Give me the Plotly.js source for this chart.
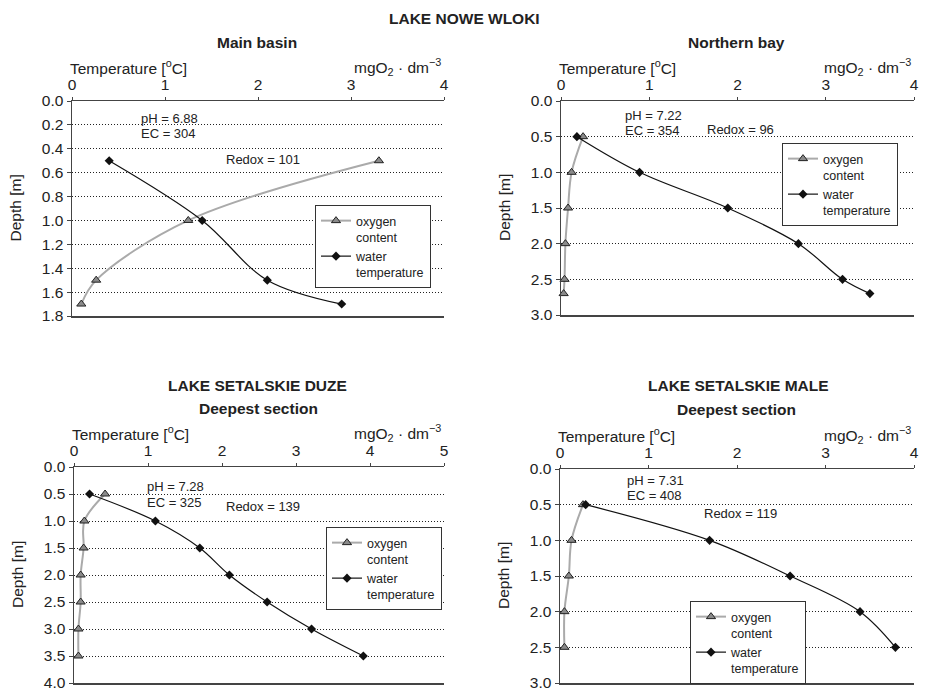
<!DOCTYPE html>
<html>
<head>
<meta charset="utf-8">
<script src="https://cdn.plot.ly/plotly-3.0.1.min.js"></script>
<style>html,body{margin:0;padding:0;background:#fff;overflow:hidden;}#chart{width:935px;height:688px;}</style>
</head>
<body>
<div id="chart"></div>
<script>
// ---- Data ----
const panelTitles = ["Main basin", "Northern bay", "Deepest section", "Deepest section"];
const lakeTitles = ["LAKE NOWE WLOKI", "LAKE SETALSKIE DUZE", "LAKE SETALSKIE MALE"];

const mainDepth = [0.5, 1.0, 1.5, 1.7];
const mainO2 = [3.30, 1.25, 0.26, 0.10];
const mainTemp = [0.40, 1.40, 2.10, 2.90];

const northDepth = [0.5, 1.0, 1.5, 2.0, 2.5, 2.7];
const northO2 = [0.25, 0.12, 0.08, 0.05, 0.04, 0.03];
const northTemp = [0.18, 0.89, 1.89, 2.69, 3.19, 3.50];

const duzeDepth = [0.5, 1.0, 1.5, 2.0, 2.5, 3.0, 3.5];
const duzeO2 = [0.42, 0.14, 0.13, 0.09, 0.09, 0.06, 0.06];
const duzeTemp = [0.21, 1.10, 1.70, 2.10, 2.61, 3.21, 3.91];

const maleDepth = [0.5, 1.0, 1.5, 2.0, 2.5];
const maleO2 = [0.26, 0.13, 0.10, 0.05, 0.05];
const maleTemp = [0.29, 1.69, 2.60, 3.39, 3.79];

const phLabels = ["pH = 6.88", "pH = 7.22", "pH = 7.28", "pH = 7.31"];
const ecLabels = ["EC = 304", "EC = 354", "EC = 325", "EC = 408"];
const redoxLabels = ["Redox = 101", "Redox = 96", "Redox = 139", "Redox = 119"];

const xTicks = [[0, 1, 2, 3, 4], [0, 1, 2, 3, 4], [0, 1, 2, 3, 4, 5], [0, 1, 2, 3, 4]];
const yMax = [1.8, 3.0, 4.0, 3.0];
const yDtick = [0.2, 0.5, 0.5, 0.5];

// ---- Layout helpers ----
const W = 935, H = 688;
const px = v => v / W;
const py = v => 1 - v / H;
const FONT = '"Liberation Sans", Arial, sans-serif';
const TXT = '#222';

const panels = [
  {depth: mainDepth, o2: mainO2, temp: mainTemp, x0: 72, x1: 444, y0: 101, y1: 316,
   ph: [0.72, 0.145], ec: [0.72, 0.27], redox: [1.63, 0.49], leg: [315, 205, 'top']},
  {depth: northDepth, o2: northO2, temp: northTemp, x0: 561, x1: 914, y0: 101, y1: 315,
   ph: [0.70, 0.21], ec: [0.70, 0.42], redox: [1.63, 0.40], leg: [782, 143, 'top']},
  {depth: duzeDepth, o2: duzeO2, temp: duzeTemp, x0: 74, x1: 444, y0: 467, y1: 683,
   ph: [0.96, 0.37], ec: [0.96, 0.65], redox: [2.03, 0.74], leg: [326, 527, 'top']},
  {depth: maleDepth, o2: maleO2, temp: maleTemp, x0: 560, x1: 914, y0: 469, y1: 683,
   ph: [0.73, 0.16], ec: [0.73, 0.37], redox: [1.60, 0.62], leg: [690, 684, 'bottom']}
];

const traces = [];
const layout = {
  width: W, height: H,
  margin: {l: 0, r: 0, t: 0, b: 0, autoexpand: false},
  paper_bgcolor: '#fff', plot_bgcolor: 'rgba(0,0,0,0)',
  font: {family: FONT, size: 15, color: TXT},
  showlegend: true,
  annotations: []
};

panels.forEach((p, i) => {
  const n = i + 1;
  const sfx = n === 1 ? '' : String(n);
  const xa = 'x' + sfx, ya = 'y' + sfx;
  const legName = n === 1 ? 'legend' : 'legend' + n;
  const tv = xTicks[i];

  traces.push({
    x: p.o2, y: p.depth, xaxis: xa, yaxis: ya, type: 'scatter', mode: 'lines+markers',
    name: 'oxygen<br>content', legend: legName, cliponaxis: false,
    line: {color: '#aaaaaa', width: 2, shape: 'spline', smoothing: 1},
    marker: {symbol: 'triangle-up', size: 8, color: '#8a8a8a', line: {color: '#222', width: 1}}
  });
  traces.push({
    x: p.temp, y: p.depth, xaxis: xa, yaxis: ya, type: 'scatter', mode: 'lines+markers',
    name: 'water<br>temperature', legend: legName, cliponaxis: false,
    line: {color: '#111', width: 1.2, shape: 'spline', smoothing: 1},
    marker: {symbol: 'diamond', size: 7, color: '#111'}
  });

  layout['xaxis' + sfx] = {
    domain: [px(p.x0), px(p.x1)], anchor: ya, side: 'top',
    range: [tv[0], tv[tv.length - 1]], tickmode: 'array', tickvals: tv, ticktext: tv.map(String),
    showline: true, linecolor: '#444', linewidth: 1.5, mirror: true,
    ticks: 'outside', ticklen: 3, tickcolor: '#444',
    showgrid: false, zeroline: false, ticklabeloverflow: 'allow',
    tickfont: {size: 15.5, color: TXT, family: FONT}, fixedrange: true
  };
  layout['yaxis' + sfx] = {
    domain: [py(p.y1), py(p.y0)], anchor: xa,
    range: [yMax[i], 0], dtick: yDtick[i], tick0: 0, tickformat: '.1f',
    showline: true, linecolor: '#444', linewidth: 1.5,
    ticks: 'outside', ticklen: 4, tickcolor: '#444',
    showgrid: true, gridcolor: '#222', gridwidth: 1, griddash: '1px,2px',
    zeroline: false, ticklabeloverflow: 'allow',
    tickfont: {size: 15.5, color: TXT, family: FONT}, fixedrange: true
  };

  layout[legName] = {
    x: px(p.leg[0]), y: py(p.leg[1]), xanchor: 'left', yanchor: p.leg[2],
    xref: 'paper', yref: 'paper', valign: 'top',
    bgcolor: '#fff', bordercolor: '#333', borderwidth: 1,
    font: {size: 12.5, color: TXT, family: FONT},
    tracegroupgap: 0, itemclick: false
  };

  // axis captions
  layout.annotations.push({
    xref: 'paper', yref: 'paper', x: px(p.x0 - 4), y: py(p.y0 - 34),
    xanchor: 'left', yanchor: 'middle', showarrow: false,
    text: 'Temperature [<sup>o</sup>C]', font: {size: 15.5, color: TXT}
  });
  layout.annotations.push({
    xref: 'paper', yref: 'paper', x: px(p.x1 - 1), y: py(p.y0 - 34),
    xanchor: 'right', yanchor: 'middle', showarrow: false,
    text: 'mgO<sub>2</sub> · dm<sup>−3</sup>', font: {size: 15.5, color: TXT}
  });
  layout.annotations.push({
    xref: 'paper', yref: 'paper', x: px(p.x0 - 57), y: py((p.y0 + p.y1) / 2),
    xanchor: 'center', yanchor: 'middle', showarrow: false, textangle: -90,
    text: 'Depth [m]', font: {size: 15.5, color: TXT}
  });
  // panel subtitle
  layout.annotations.push({
    xref: 'paper', yref: 'paper', x: px((p.x0 + p.x1) / 2 - 1), y: py(p.y0 - 59),
    xanchor: 'center', yanchor: 'middle', showarrow: false,
    text: '<b>' + panelTitles[i] + '</b>', font: {size: 15.5, color: TXT}
  });
  // in-plot notes
  [[phLabels[i], p.ph], [ecLabels[i], p.ec], [redoxLabels[i], p.redox]].forEach(([t, pos]) => {
    layout.annotations.push({
      xref: xa, yref: ya, x: pos[0], y: pos[1], xanchor: 'left', yanchor: 'middle',
      showarrow: false, text: t, font: {size: 13, color: TXT}
    });
  });
});

// lake titles
layout.annotations.push({xref: 'paper', yref: 'paper', x: px(464), y: py(18), xanchor: 'center', yanchor: 'middle',
  showarrow: false, text: '<b>' + lakeTitles[0] + '</b>', font: {size: 15.5, color: TXT}});
layout.annotations.push({xref: 'paper', yref: 'paper', x: px(257), y: py(385), xanchor: 'center', yanchor: 'middle',
  showarrow: false, text: '<b>' + lakeTitles[1] + '</b>', font: {size: 15.5, color: TXT}});
layout.annotations.push({xref: 'paper', yref: 'paper', x: px(738), y: py(385), xanchor: 'center', yanchor: 'middle',
  showarrow: false, text: '<b>' + lakeTitles[2] + '</b>', font: {size: 15.5, color: TXT}});

Plotly.newPlot('chart', traces, layout, {staticPlot: true, displayModeBar: false});
</script>
</body>
</html>
